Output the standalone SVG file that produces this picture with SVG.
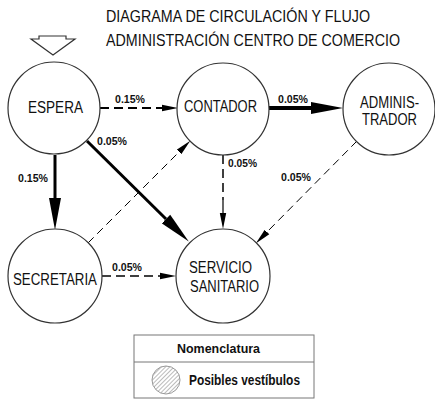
<svg xmlns="http://www.w3.org/2000/svg" width="435" height="400" viewBox="0 0 435 400">
<style>
.node{fill:#fff;stroke:#333;stroke-width:1.2}
.t{font-family:"Liberation Sans",Arial,sans-serif;font-size:16px;fill:#111}
.title{font-family:"Liberation Sans",Arial,sans-serif;font-size:16.5px;fill:#111}
.lbl{font-family:"Liberation Sans",Arial,sans-serif;font-size:10.5px;font-weight:bold;fill:#111}
.c{fill:none;stroke:#000}
.thick{stroke-width:3}
.thicker{stroke-width:4}
.dash1{stroke-width:1;stroke-dasharray:8 5}
.dash2{stroke-width:2;stroke-dasharray:9 5}
.dash15{stroke-width:1.5;stroke-dasharray:9 5}
</style>
<defs>
<marker id="aL" markerUnits="userSpaceOnUse" markerWidth="34" markerHeight="14" refX="0" refY="7" orient="auto" viewBox="0 0 34 14">
<path d="M0,1 L32,7 L0,13 Z" fill="#000"/>
</marker>
<marker id="aS" markerUnits="userSpaceOnUse" markerWidth="17" markerHeight="8" refX="0" refY="4" orient="auto" viewBox="0 0 17 8">
<path d="M0,0.8 L16,4 L0,7.2 Z" fill="#000"/>
</marker>
<pattern id="hatch" patternUnits="userSpaceOnUse" width="3" height="3" patternTransform="rotate(-45)">
<line x1="0" y1="1.5" x2="3" y2="1.5" stroke="#aaa" stroke-width="0.8"/>
</pattern>
</defs>

<g id="title">
<text class="title" x="106" y="22" textLength="264" lengthAdjust="spacingAndGlyphs">DIAGRAMA DE CIRCULACIÓN Y FLUJO</text>
<text class="title" x="106" y="46" textLength="294" lengthAdjust="spacingAndGlyphs">ADMINISTRACIÓN CENTRO DE COMERCIO</text>
</g>

<g id="entry">
<polygon points="39,36 66,36 66,39 75,39 53,55 31,39 39,39" fill="#fff" stroke="#333" stroke-width="1.2"/>
</g>

<g id="connectors">
<line class="c dash2" x1="100" y1="108" x2="162" y2="108" marker-end="url(#aS)"/>
<line class="c thicker" x1="269" y1="108" x2="311" y2="108" marker-end="url(#aL)"/>
<line class="c thick" x1="55" y1="155" x2="55" y2="198" marker-end="url(#aL)"/>
<line class="c thick" x1="87" y1="141" x2="166" y2="219" marker-end="url(#aL)"/>
<line class="c dash1" x1="88" y1="243" x2="179" y2="152" marker-end="url(#aS)"/>
<line class="c dash15" x1="223" y1="155" x2="223" y2="200"/>
<line class="c" stroke-width="1.2" x1="223" y1="200" x2="223" y2="213" marker-end="url(#aS)"/>
<line class="c dash1" x1="357" y1="141" x2="267" y2="232" marker-end="url(#aS)"/>
<line class="c dash15" x1="102" y1="276" x2="160" y2="276" marker-end="url(#aS)"/>
<text class="lbl" x="115" y="103" textLength="30" lengthAdjust="spacingAndGlyphs">0.15%</text>
<text class="lbl" x="278" y="103" textLength="30" lengthAdjust="spacingAndGlyphs">0.05%</text>
<text class="lbl" x="18" y="182" textLength="30" lengthAdjust="spacingAndGlyphs">0.15%</text>
<text class="lbl" x="97" y="145" textLength="30" lengthAdjust="spacingAndGlyphs">0.05%</text>
<text class="lbl" x="228" y="167" textLength="29" lengthAdjust="spacingAndGlyphs">0.05%</text>
<text class="lbl" x="281" y="181" textLength="30" lengthAdjust="spacingAndGlyphs">0.05%</text>
<text class="lbl" x="112" y="271" textLength="30" lengthAdjust="spacingAndGlyphs">0.05%</text>
</g>

<g id="espera">
<circle class="node" cx="54" cy="108" r="46"/>
<text class="t" x="28" y="113" textLength="55" lengthAdjust="spacingAndGlyphs">ESPERA</text>
</g>
<g id="contador">
<circle class="node" cx="223" cy="109" r="46"/>
<text class="t" x="184" y="112" textLength="73" lengthAdjust="spacingAndGlyphs">CONTADOR</text>
</g>
<g id="administrador">
<circle class="node" cx="389" cy="109" r="46"/>
<text class="t" x="360" y="108" textLength="59" lengthAdjust="spacingAndGlyphs">ADMINIS-</text>
<text class="t" x="362" y="125" textLength="55" lengthAdjust="spacingAndGlyphs">TRADOR</text>
</g>
<g id="secretaria">
<circle class="node" cx="55" cy="276" r="47"/>
<text class="t" x="13" y="285" textLength="84" lengthAdjust="spacingAndGlyphs">SECRETARIA</text>
</g>
<g id="servicio">
<circle class="node" cx="223" cy="276" r="47"/>
<text class="t" x="189" y="273" textLength="63" lengthAdjust="spacingAndGlyphs">SERVICIO</text>
<text class="t" x="190" y="292" textLength="69" lengthAdjust="spacingAndGlyphs">SANITARIO</text>
</g>

<g id="legend">
<rect x="134" y="335" width="180" height="63" fill="#fff" stroke="#777" stroke-width="1"/>
<line x1="134" y1="362" x2="314" y2="362" stroke="#777" stroke-width="1"/>
<text class="t" x="177" y="353" style="font-size:12.5px;font-weight:bold" textLength="83" lengthAdjust="spacingAndGlyphs">Nomenclatura</text>
<circle cx="166" cy="380" r="14" fill="url(#hatch)" stroke="#999" stroke-width="1"/>
<text class="t" x="189" y="385" style="font-size:14px;font-weight:bold" textLength="111" lengthAdjust="spacingAndGlyphs">Posibles vestíbulos</text>
</g>
</svg>
